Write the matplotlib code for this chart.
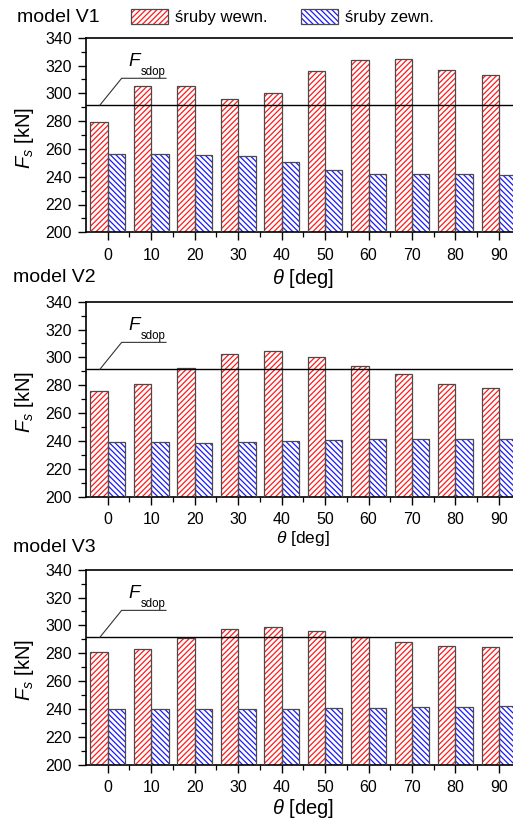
"""
Bolt forces F_s vs. angle theta for three models (V1, V2, V3).
Inner bolts (red, /) vs outer bolts (blue, \), with allowable force line F_sdop.
"""

import numpy as np
import matplotlib
matplotlib.use('Agg')
import matplotlib.pyplot as plt
from matplotlib.patches import Patch
from matplotlib.ticker import MultipleLocator, FixedLocator

# ── Data ────────────────────────────────────────────
angles = [0, 10, 20, 30, 40, 50, 60, 70, 80, 90]

v1_inner = [279, 305, 305, 296, 300, 316, 324, 324.4, 317, 313]
v1_outer = [256.3, 256.6, 255.4, 254.7, 250.8, 245, 241.7, 241.7, 241.7, 241]

v2_inner = [276, 281, 292.4, 302.7, 304.3, 300.5, 293.8, 288, 281, 278]
v2_outer = [239, 239, 238.8, 239, 240, 241, 241.6, 241.6, 241.6, 241.6]

v3_inner = [280.6, 283.3, 290.7, 297.6, 298.8, 296.2, 291.6, 287.8, 284.9, 284.7]
v3_outer = [240.2, 240.2, 240.2, 240.2, 239.7, 240.4, 241, 241.2, 241.4, 242.4]

f_sdop = 291.5

model_names = ['model V1', 'model V2', 'model V3']
legend_labels = ['śruby wewn.', 'śruby zewn.']

# ── Style ───────────────────────────────────────────
plt.rcParams['font.family'] = ['Liberation Sans', 'DejaVu Sans']
plt.rcParams['mathtext.fontset'] = 'custom'
plt.rcParams['mathtext.rm'] = 'Liberation Sans'
plt.rcParams['mathtext.it'] = 'Liberation Sans:italic'
plt.rcParams['hatch.linewidth'] = 0.9

RED = '#ff1a1a'
BLUE = '#1a1aff'
EDGE = '#4a4a4a'
W, H = 513, 823

# axes boxes in pixels: (top, bottom); left=86, right ~521 (cut by image edge)
PANELS = [(37.7, 232.3), (301.7, 496.7), (569.7, 764.7)]
LEFT, RIGHT = 86, 520.7
MODEL_POS = [(17, 18), (13, 278), (13, 548)]
XLABEL_POS = [(303, 278, 14.5), (303, 538, 12.5), (303, 808, 14.5)]


def draw_bars(ax, x, vals, color, hatch):
    # hatch drawn with edgecolor, then outline drawn separately in gray
    ax.bar(x, vals, width=0.4, color='white', edgecolor=color,
           hatch=hatch, linewidth=0, zorder=2)
    ax.bar(x, vals, width=0.4, fill=False, edgecolor=EDGE,
           linewidth=0.9, zorder=3)


def draw_panel(ax, inner, outer):
    x = np.arange(len(angles))
    draw_bars(ax, x - 0.2, inner, RED, '//////')
    draw_bars(ax, x + 0.2, outer, BLUE, '\\\\\\\\\\\\')

    ax.axhline(f_sdop, color='black', linewidth=1.0, zorder=4)

    # F_sdop leader + label
    ax.plot([-0.18, 0.32, 1.34], [f_sdop, 310.8, 310.8],
            color='#333333', linewidth=0.8, zorder=4, clip_on=False)
    ax.text(0.47, 319.5, 'F', fontsize=13.5, style='italic',
            ha='left', va='baseline')
    ax.text(0.76, 313.3, 'sdop', fontsize=8.3, ha='left', va='baseline')

    ax.set_xlim(-0.5, len(angles) - 0.5)
    ax.set_ylim(200, 340)

    ax.xaxis.set_major_locator(FixedLocator(x))
    ax.xaxis.set_minor_locator(FixedLocator(x[:-1] + 0.5))
    ax.set_xticklabels([str(a) for a in angles])
    ax.yaxis.set_major_locator(MultipleLocator(20))
    ax.yaxis.set_minor_locator(MultipleLocator(10))

    ax.tick_params(axis='both', which='major', direction='out', length=6,
                   width=1.0, labelsize=11.5, pad=4)
    ax.tick_params(axis='both', which='minor', direction='out', length=3.5,
                   width=0.9)
    ax.tick_params(axis='x', which='major', pad=5)
    for sp in ax.spines.values():
        sp.set_linewidth(1.2)


def main():
    fig = plt.figure(figsize=(W / 100, H / 100), dpi=100)

    data = [(v1_inner, v1_outer), (v2_inner, v2_outer), (v3_inner, v3_outer)]
    for i, ((top, bot), (inner, outer)) in enumerate(zip(PANELS, data)):
        ax = fig.add_axes([LEFT / W, 1 - bot / H,
                           (RIGHT - LEFT) / W, (bot - top) / H])
        draw_panel(ax, inner, outer)

        mx, my = MODEL_POS[i]
        fig.text(mx / W, 1 - my / H, model_names[i], fontsize=14,
                 ha='left', va='center')

        lx, ly, lsize = XLABEL_POS[i]
        fig.text(lx / W, 1 - ly / H, r'$\theta$ [deg]', fontsize=lsize,
                 ha='center', va='center')

        fig.text(25 / W, 1 - ((top + bot) / 2 + 3) / H, r'$F_s$ [kN]',
                 fontsize=14.5, rotation=90, ha='center', va='center')

    # legend (hatch + gray outline as overlaid tuple handles)
    h_in = (Patch(facecolor='white', edgecolor=RED, hatch='//////', linewidth=0),
            Patch(fill=False, edgecolor=EDGE, linewidth=0.9))
    h_out = (Patch(facecolor='white', edgecolor=BLUE, hatch='\\\\\\\\\\\\', linewidth=0),
             Patch(fill=False, edgecolor=EDGE, linewidth=0.9))
    fig.legend([h_in, h_out], legend_labels, loc='upper left',
               bbox_to_anchor=(131 / W, 1 - 9 / H), ncol=2, frameon=False,
               fontsize=12, handlelength=2.2, handleheight=1.0,
               handletextpad=0.45, columnspacing=2.0, borderpad=0,
               borderaxespad=0)

    fig.savefig('out.png', dpi=100)
    plt.close(fig)


if __name__ == '__main__':
    main()
